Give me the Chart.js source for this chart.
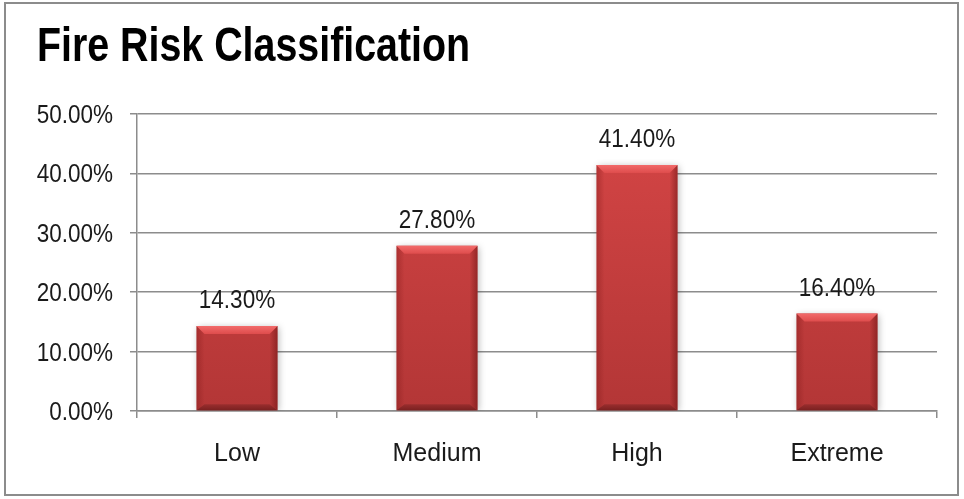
<!DOCTYPE html>
<html>
<head>
<meta charset="utf-8">
<title>Fire Risk Classification</title>
<script src="https://cdn.jsdelivr.net/npm/chart.js@4/dist/chart.umd.min.js"></script>
<style>
  html, body { margin: 0; padding: 0; background: #fff; }
  #wrap { width: 964px; height: 499px; }
</style>
</head>
<body>
<div id="wrap"><canvas id="riskChart" width="964" height="499"></canvas></div>
<script>
const chartTitle = 'Fire Risk Classification';
const categories = ['Low', 'Medium', 'High', 'Extreme'];
const shares = [14.3, 27.8, 41.4, 16.4];
const yTicks = [0, 10, 20, 30, 40, 50];

const regular = "'Liberation Sans', Arial, sans-serif";
const pct = v => v.toFixed(2) + '%';

// condensed text: regular face squeezed horizontally
function narrowText(ctx, text, x, y, size, bold, align, squeeze) {
  ctx.save();
  ctx.translate(x, y);
  ctx.scale(squeeze, 1);
  ctx.font = (bold ? 'bold ' : '') + size + 'px ' + regular;
  ctx.textAlign = align;
  ctx.textBaseline = 'alphabetic';
  ctx.fillText(text, 0, 0);
  ctx.restore();
}

// frame, title and white background
const framePlugin = {
  id: 'frame',
  beforeDraw(chart) {
    const ctx = chart.ctx;
    ctx.save();
    ctx.fillStyle = '#fff';
    ctx.fillRect(0, 0, chart.width, chart.height);
    ctx.strokeStyle = '#8c8c8c';
    ctx.lineWidth = 2;
    ctx.strokeRect(5, 3, chart.width - 11, chart.height - 7);
    ctx.fillStyle = '#000';
    narrowText(ctx, chartTitle, 37, 61, 48, true, 'left', 0.82);
    ctx.restore();
  },
  afterDraw(chart) {
    // y tick labels in the condensed face, placed by the y scale
    const ctx = chart.ctx;
    const y = chart.scales.y;
    ctx.save();
    ctx.fillStyle = '#1a1a1a';
    y.ticks.forEach(t => {
      narrowText(ctx, pct(t.value), y.right - 24, y.getPixelForValue(t.value) + 9, 25, false, 'right', 0.9);
    });
    ctx.restore();
  }
};

// soft shadow under the bars, then bevel edges and value labels on top
const bevelPlugin = {
  id: 'bevel',
  beforeDatasetsDraw(chart) {
    const ctx = chart.ctx;
    ctx.save();
    ctx.shadowColor = 'rgba(0,0,0,0.3)';
    ctx.shadowBlur = 7;
    ctx.shadowOffsetX = 1;
    ctx.shadowOffsetY = 1;
  },
  afterDatasetsDraw(chart) {
    const ctx = chart.ctx;
    ctx.restore();
    ctx.save();
    const meta = chart.getDatasetMeta(0);
    meta.data.forEach((bar, i) => {
      const p = bar.getProps(['x', 'y', 'base', 'width'], true);
      const l = p.x - p.width / 2, r = p.x + p.width / 2;
      const t = p.y, b = p.base;
      const e = 8, eb = 6;
      const poly = (pts, fill) => {
        ctx.beginPath();
        ctx.moveTo(pts[0][0], pts[0][1]);
        pts.slice(1).forEach(q => ctx.lineTo(q[0], q[1]));
        ctx.closePath();
        ctx.fillStyle = fill;
        ctx.fill();
      };
      const lg = ctx.createLinearGradient(l, 0, l + e, 0);
      lg.addColorStop(0, 'rgba(120,20,20,0.35)');
      lg.addColorStop(1, 'rgba(120,20,20,0)');
      poly([[l, t], [l + e, t + e], [l + e, b - eb], [l, b]], lg);
      const rg = ctx.createLinearGradient(r - e, 0, r, 0);
      rg.addColorStop(0, 'rgba(100,15,15,0)');
      rg.addColorStop(1, 'rgba(100,15,15,0.5)');
      poly([[r, t], [r - e, t + e], [r - e, b - eb], [r, b]], rg);
      const bg = ctx.createLinearGradient(0, b - eb, 0, b);
      bg.addColorStop(0, '#9a2e2e');
      bg.addColorStop(1, '#7a2020');
      poly([[l, b], [l + e, b - eb], [r - e, b - eb], [r, b]], bg);
      const tg = ctx.createLinearGradient(0, t, 0, t + e);
      tg.addColorStop(0, '#f26a6a');
      tg.addColorStop(1, '#de4c4c');
      poly([[l, t], [r, t], [r - e, t + e], [l + e, t + e]], tg);

      ctx.fillStyle = '#1a1a1a';
      narrowText(ctx, pct(shares[i]), p.x, t - 18, 25, false, 'center', 0.9);
    });
    ctx.restore();
  }
};

const ctx = document.getElementById('riskChart').getContext('2d');
new Chart(ctx, {
  type: 'bar',
  data: {
    labels: categories,
    datasets: [{
      data: shares,
      backgroundColor: (c) => {
        const area = c.chart.chartArea;
        if (!area) return '#c84040';
        const g = c.chart.ctx.createLinearGradient(0, area.top, 0, area.bottom);
        g.addColorStop(0, '#d64646');
        g.addColorStop(1, '#b33636');
        return g;
      },
      borderWidth: 0,
      barPercentage: 0.405,
      categoryPercentage: 1
    }]
  },
  options: {
    responsive: false,
    animation: false,
    layout: { padding: { top: 114, left: 30, right: 27, bottom: 0 } },
    plugins: {
      legend: { display: false },
      tooltip: { enabled: false },
      title: { display: false }
    },
    scales: {
      x: {
        afterFit: s => { s.height = 88; },
        border: { color: '#8c8c8c', width: 1.5 },
        grid: {
          offset: true,
          drawOnChartArea: false,
          tickLength: 7,
          color: '#8c8c8c',
          lineWidth: 1.5
        },
        ticks: {
          color: '#1a1a1a',
          font: { family: regular, size: 25 },
          padding: 21
        }
      },
      y: {
        min: 0,
        max: 50,
        afterFit: s => { s.width = 107; },
        afterBuildTicks: s => { s.ticks = yTicks.map(v => ({ value: v })); },
        border: { color: '#8c8c8c', width: 1.5 },
        grid: {
          color: '#8c8c8c',
          lineWidth: 1.5,
          tickLength: 7
        },
        ticks: { display: false }
      }
    }
  },
  plugins: [framePlugin, bevelPlugin]
});
</script>
</body>
</html>
